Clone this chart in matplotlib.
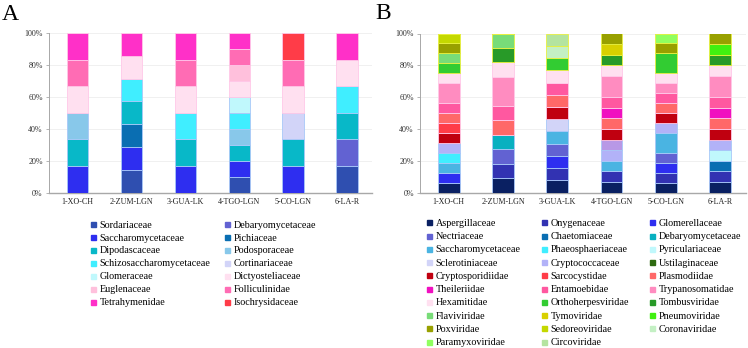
import matplotlib
matplotlib.use("Agg")
import matplotlib.pyplot as plt
from matplotlib.lines import Line2D
import numpy as np

plt.rcParams['font.family'] = ['Liberation Serif', 'DejaVu Serif']

samples = ['1-XO-CH', '2-ZUM-LGN', '3-GUA-LK', '4-TGO-LGN', '5-CO-LGN', '6-LA-R']
yticks = [0, 20, 40, 60, 80, 100]
ytick_labels = ['0%', '20%', '40%', '60%', '80%', '100%']

# ---------------- Panel A (percent per sample) ----------------
a_names = ['Sordariaceae', 'Debaryomycetaceae', 'Saccharomycetaceae', 'Pichiaceae',
           'Dipodascaceae', 'Podosporaceae', 'Schizosaccharomycetaceae', 'Cortinariaceae',
           'Glomeraceae', 'Dictyosteliaceae', 'Euglenaceae', 'Folliculinidae',
           'Tetrahymenidae', 'Isochrysidaceae']
a_sordariaceae       = [0, 14.29, 0, 10, 0, 16.67]
a_debaryomycetaceae  = [0, 0, 0, 0, 0, 16.67]
a_saccharomycetaceae = [16.67, 14.29, 16.67, 10, 16.67, 0]
a_pichiaceae         = [0, 14.29, 0, 0, 0, 0]
a_dipodascaceae      = [16.67, 14.29, 16.67, 10, 16.67, 16.67]
a_podosporaceae      = [16.67, 0, 0, 10, 0, 0]
a_schizosacch        = [0, 14.29, 16.67, 10, 0, 16.67]
a_cortinariaceae     = [0, 0, 0, 0, 16.67, 0]
a_glomeraceae        = [0, 0, 0, 10, 0, 0]
a_dictyosteliaceae   = [16.67, 14.28, 16.67, 10, 16.67, 16.67]
a_euglenaceae        = [0, 0, 0, 10, 0, 0]
a_folliculinidae     = [16.67, 0, 16.67, 10, 16.67, 0]
a_tetrahymenidae     = [16.65, 14.26, 16.65, 10, 0, 16.65]
a_isochrysidaceae    = [0, 0, 0, 0, 16.65, 0]
a_values = [a_sordariaceae, a_debaryomycetaceae, a_saccharomycetaceae, a_pichiaceae,
            a_dipodascaceae, a_podosporaceae, a_schizosacch, a_cortinariaceae,
            a_glomeraceae, a_dictyosteliaceae, a_euglenaceae, a_folliculinidae,
            a_tetrahymenidae, a_isochrysidaceae]
a_colors = ['#2F4FB0', '#6262D2', '#2E2EF0', '#0A6EB2', '#08B8C8', '#88C8EA',
            '#40EEFF', '#D2D4F8', '#C0F8FC', '#FFE0F0', '#FFC0DC', '#FF6CB4',
            '#FF30C8', '#FF3C48']
a_edges = ['#A8C8F8'] * 9 + ['#FFC8E8'] * 5

# ---------------- Panel B (percent per sample) ----------------
b_names = ['Aspergillaceae', 'Onygenaceae', 'Glomerellaceae', 'Nectriaceae',
           'Chaetomiaceae', 'Debaryomycetaceae', 'Saccharomycetaceae', 'Phaeosphaeriaceae',
           'Pyriculariaceae', 'Sclerotiniaceae', 'Cryptococcaceae', 'Ustilaginaceae',
           'Cryptosporidiidae', 'Sarcocystidae', 'Plasmodiidae', 'Theileriidae',
           'Entamoebidae', 'Trypanosomatidae', 'Hexamitidae', 'Orthoherpesviridae',
           'Tombusviridae', 'Flaviviridae', 'Tymoviridae', 'Pneumoviridae',
           'Poxviridae', 'Sedoreoviridae', 'Coronaviridae', 'Paramyxoviridae',
           'Circoviridae']
b_aspergillaceae     = [6.25, 9.09, 7.69, 6.67, 6.25, 6.67]
b_onygenaceae        = [0, 9.09, 7.69, 6.67, 6.25, 6.67]
b_glomerellaceae     = [6.25, 0, 7.69, 0, 6.25, 0]
b_nectriaceae        = [0, 9.09, 7.69, 0, 6.25, 0]
b_chaetomiaceae      = [0, 0, 0, 0, 0, 6.67]
b_debaryomycetaceae  = [0, 9.09, 0, 0, 0, 0]
b_saccharomycetaceae = [6.25, 0, 7.69, 6.67, 12.5, 0]
b_phaeosphaeriaceae  = [6.25, 0, 0, 0, 0, 0]
b_pyriculariaceae    = [0, 0, 0, 0, 0, 6.67]
b_sclerotiniaceae    = [0, 0, 7.69, 0, 0, 0]
b_cryptococcaceae    = [6.25, 0, 0, 6.67, 6.25, 6.67]
b_ustilaginaceae     = [0, 0, 0, 6.67, 0, 0]
b_cryptosporidiidae  = [6.25, 0, 7.69, 6.67, 6.25, 6.67]
b_sarcocystidae      = [6.25, 0, 0, 0, 0, 0]
b_plasmodiidae       = [6.25, 9.09, 7.69, 6.67, 6.25, 6.67]
b_theileriidae       = [0, 0, 0, 6.67, 0, 6.67]
b_entamoebidae       = [6.25, 9.09, 7.69, 6.67, 6.25, 6.67]
b_trypanosomatidae   = [12.5, 18.18, 0, 13.33, 6.25, 13.33]
b_hexamitidae        = [6.25, 9.09, 7.69, 6.67, 6.25, 6.67]
b_orthoherpesviridae = [6.25, 0, 7.69, 0, 12.5, 0]
b_tombusviridae      = [0, 9.09, 0, 6.67, 0, 6.67]
b_flaviviridae       = [6.25, 9.09, 0, 0, 0, 0]
b_tymoviridae        = [0, 0, 0, 6.67, 0, 0]
b_pneumoviridae      = [0, 0, 0, 0, 0, 6.67]
b_poxviridae         = [6.25, 0, 0, 6.66, 6.25, 6.66]
b_sedoreoviridae     = [6.25, 0, 0, 0, 0, 0]
b_coronaviridae      = [0, 0, 7.69, 0, 0, 0]
b_paramyxoviridae    = [0, 0, 0, 0, 6.25, 0]
b_circoviridae       = [0, 0, 7.72, 0, 0, 0]
b_values = [b_aspergillaceae, b_onygenaceae, b_glomerellaceae, b_nectriaceae,
            b_chaetomiaceae, b_debaryomycetaceae, b_saccharomycetaceae, b_phaeosphaeriaceae,
            b_pyriculariaceae, b_sclerotiniaceae, b_cryptococcaceae, b_ustilaginaceae,
            b_cryptosporidiidae, b_sarcocystidae, b_plasmodiidae, b_theileriidae,
            b_entamoebidae, b_trypanosomatidae, b_hexamitidae, b_orthoherpesviridae,
            b_tombusviridae, b_flaviviridae, b_tymoviridae, b_pneumoviridae,
            b_poxviridae, b_sedoreoviridae, b_coronaviridae, b_paramyxoviridae,
            b_circoviridae]
b_colors = ['#0A2062', '#3232B2', '#2E2EF0', '#6262D2', '#0A6EB2', '#08B0C0',
            '#4AB4E2', '#40EEFF', '#C0F8FC', '#D2D4F8', '#B2B2F8', '#2E6A10',
            '#C00010', '#FF3C48', '#FF6868', '#F010C0', '#FF58A0', '#FF8CC0',
            '#FFE0F0', '#32CC32', '#289A28', '#78DC78', '#D8D000', '#40F010',
            '#98A000', '#C4D800', '#C4F0C4', '#90FF60', '#B4E4A0']
# bar fill differs from legend swatch for Ustilaginaceae in the reference
b_bar_colors = list(b_colors)
b_bar_colors[11] = '#B898E6'
b_edges = ['#A8C8F8'] * 12 + ['#FFC8E8'] * 7 + ['#E8F040'] * 10

W, H = 748, 348
fig = plt.figure(figsize=(W / 100, H / 100), dpi=100)


def px_axes(l, r, t, b):
    return fig.add_axes([l / W, 1 - b / H, (r - l) / W, (b - t) / H])


def draw_panel(ax, values, colors, edges, xlim):
    x = np.arange(len(samples))
    bottom = np.zeros(len(samples))
    for vals, c, e in zip(values, colors, edges):
        v = np.array(vals, dtype=float)
        ax.bar(x, v, width=0.4, bottom=bottom, color=c, edgecolor=e,
               linewidth=0.6, zorder=3)
        bottom += v
    ax.set_xlim(*xlim)
    ax.set_ylim(0, 100)
    ax.set_yticks(yticks)
    ax.set_yticklabels(ytick_labels)
    ax.set_xticks(x)
    ax.set_xticklabels(samples)
    ax.yaxis.grid(True, color='#EEEEEE', linewidth=0.6, zorder=0)
    ax.set_axisbelow(True)
    for s in ['top', 'right']:
        ax.spines[s].set_visible(False)
    ax.spines['left'].set_color('#A8A8A8')
    ax.spines['left'].set_linewidth(0.7)
    ax.spines['bottom'].set_color('#A8A8A8')
    ax.spines['bottom'].set_linewidth(1.0)
    ax.tick_params(axis='y', length=2.5, width=0.6, color='#A8A8A8', pad=2,
                   labelsize=5.8, labelcolor='#333333')
    ax.tick_params(axis='x', length=0, pad=3.5, labelsize=5.8, labelcolor='#222222')


axA = px_axes(49, 372, 33, 192.7)
draw_panel(axA, a_values, a_colors, a_edges, (-0.53, 5.46))
axB = px_axes(420, 746, 33.5, 192.7)
draw_panel(axB, b_values, b_bar_colors, b_edges, (-0.53, 5.48))

fig.text(2 / W, 1 - 20 / H, 'A', fontsize=17, ha='left', va='baseline')
fig.text(375 / W, 1 - 19 / H, 'B', fontsize=17, ha='left', va='baseline')


def handles(names, colors, ncol):
    hs = [Line2D([], [], linestyle='none', marker='s', markersize=3.6,
                 markerfacecolor=c, markeredgecolor=c, label=n)
          for n, c in zip(names, colors)]
    # reorder so the legend reads row by row, as in the reference
    return [hs[i] for c in range(ncol) for i in range(c, len(hs), ncol)]


fig.legend(handles=handles(a_names, a_colors, 2), loc='upper left',
           bbox_to_anchor=(90 / W, 1 - 220.5 / H), ncol=2, frameon=False,
           fontsize=7.3, handlelength=0.6, handletextpad=0.35,
           columnspacing=1.3, labelspacing=0.38, borderpad=0, borderaxespad=0)
fig.legend(handles=handles(b_names, b_colors, 3), loc='upper left',
           bbox_to_anchor=(426 / W, 1 - 218.8 / H), ncol=3, frameon=False,
           fontsize=7.3, handlelength=0.6, handletextpad=0.35,
           columnspacing=2.0, labelspacing=0.41, borderpad=0, borderaxespad=0)

fig.savefig('out.png', dpi=100)
